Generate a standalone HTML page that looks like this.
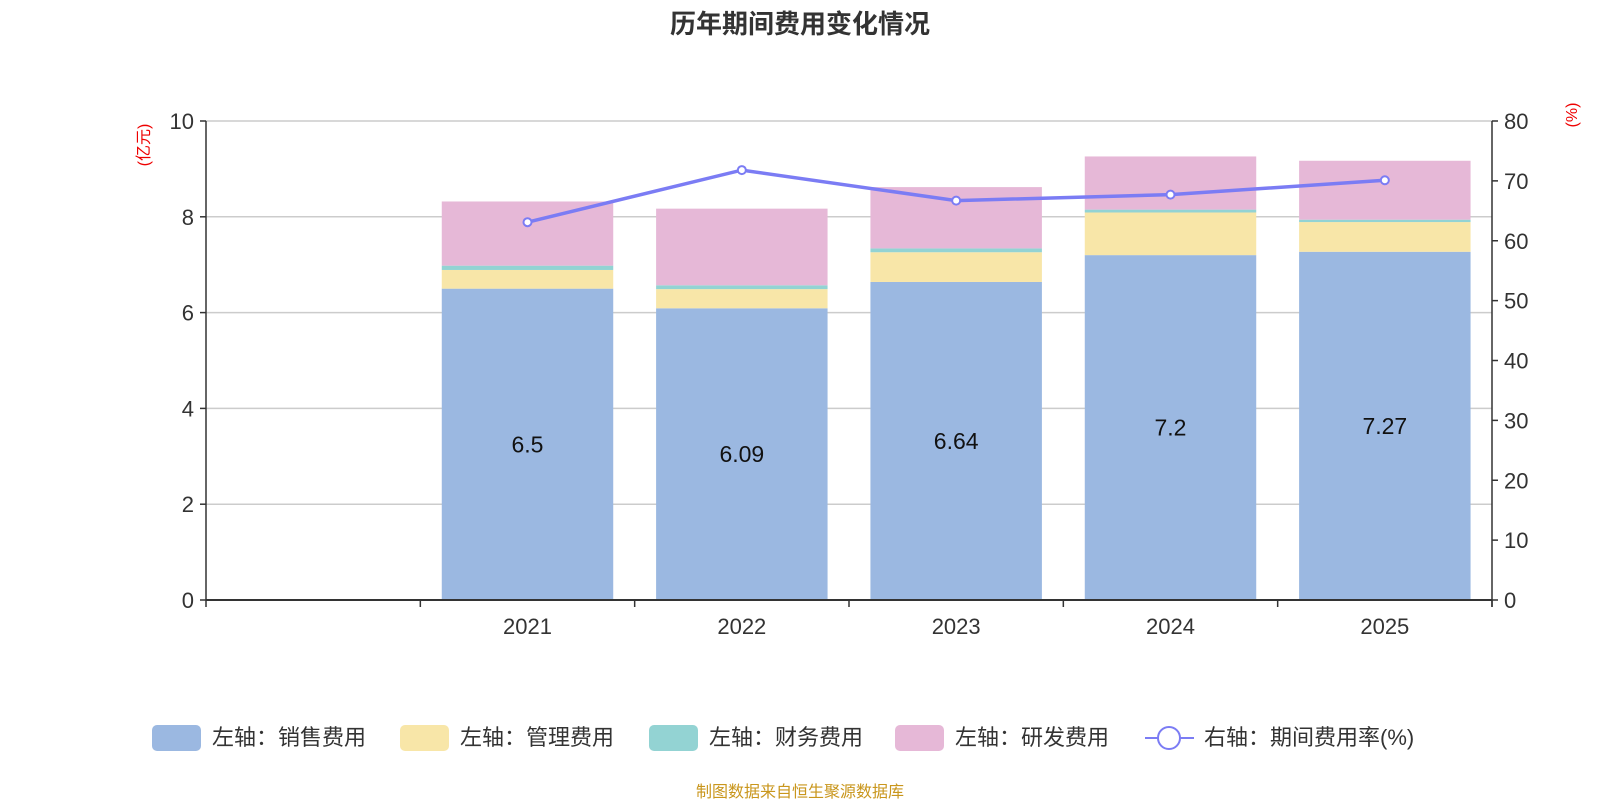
<!DOCTYPE html>
<html><head><meta charset="utf-8"><style>
body{margin:0;background:#fff;width:1600px;height:800px;overflow:hidden;font-family:"Liberation Sans","Noto Sans CJK SC",sans-serif}
</style></head><body>
<svg id="c" width="1600" height="800" xmlns="http://www.w3.org/2000/svg" font-family="Liberation Sans, Noto Sans CJK SC, sans-serif"></svg>
<script>
const categories=["","2021","2022","2023","2024","2025"];
const sales=[null,6.5,6.09,6.64,7.2,7.27];
const mgmt=[null,0.39,0.40,0.62,0.89,0.62];
const fin=[null,0.09,0.08,0.08,0.06,0.05];
const rd=[null,1.34,1.60,1.28,1.11,1.23];
const rate=[null,63.1,71.8,66.7,67.7,70.1];
const leftTicks=[0,2,4,6,8,10];
const rightTicks=[0,10,20,30,40,50,60,70,80];
const NS="http://www.w3.org/2000/svg";
const svg=document.getElementById('c');
const L=206,R=1492,T=121,B=600;
const slot=(R-L)/categories.length;
const x=i=>L+slot*(i+0.5);
const yl=v=>B-(B-T)*v/10;
const yr=v=>B-(B-T)*v/80;
function mk(t,a,txt){const e=document.createElementNS(NS,t);for(const k in a)e.setAttribute(k,a[k]);if(txt!=null)e.textContent=txt;svg.appendChild(e);return e;}
let e;
e=mk('text',{x:800,y:33,'text-anchor':'middle','font-size':26,'font-weight':'bold',fill:'#333'},'历年期间费用变化情况');


leftTicks.forEach(v=>{
 if(v>0){e=mk('line',{x1:L,x2:R,y1:yl(v),y2:yl(v),stroke:'#ccc','stroke-width':1.5});
 }
 e=mk('line',{x1:L-6,x2:L,y1:yl(v),y2:yl(v),stroke:'#333','stroke-width':1.5});
 
 e=mk('text',{x:L-12,y:yl(v)+8,'text-anchor':'end','font-size':22,fill:'#333'},String(v));
 
});
rightTicks.forEach(v=>{
 e=mk('line',{x1:R,x2:R+6,y1:yr(v),y2:yr(v),stroke:'#333','stroke-width':1.5});
 
 e=mk('text',{x:R+12,y:yr(v)+8,'font-size':22,fill:'#333'},String(v));
 
});
const cols=['#9bb8e1','#f8e6a8','#93d3d3','#e6b8d7'];
const series=[sales,mgmt,fin,rd];
const bw=slot*0.8;
categories.forEach((c,i)=>{
 if(sales[i]==null)return;
 let base=0;
 series.forEach((s,k)=>{
  e=mk('rect',{x:x(i)-bw/2,y:yl(base+s[i]),width:bw,height:yl(base)-yl(base+s[i]),fill:cols[k]});
  
  
  base+=s[i];
 });
 e=mk('text',{x:x(i),y:yl(sales[i]/2)+8,'text-anchor':'middle','font-size':23,fill:'#111'},String(sales[i]));
 
 e=mk('text',{x:x(i),y:B+34,'text-anchor':'middle','font-size':22,fill:'#333'},c);
 
});
for(let i=0;i<=categories.length;i++){
 e=mk('line',{x1:L+slot*i,x2:L+slot*i,y1:B,y2:B+7,stroke:'#333','stroke-width':1.5});
 
}
e=mk('line',{x1:L,x2:R,y1:B,y2:B,stroke:'#333','stroke-width':2});

e=mk('line',{x1:L,x2:L,y1:T,y2:B,stroke:'#333','stroke-width':1.5});

e=mk('line',{x1:R,x2:R,y1:T,y2:B+7,stroke:'#333','stroke-width':1.5});

let pts=[];rate.forEach((v,i)=>{if(v!=null)pts.push(x(i)+','+yr(v));});
e=mk('polyline',{points:pts.join(' '),fill:'none',stroke:'#7b7cf4','stroke-width':3.5});

rate.forEach((v,i)=>{if(v==null)return;
 e=mk('circle',{cx:x(i),cy:yr(v),r:4,fill:'#fff',stroke:'#7b7cf4','stroke-width':2});
 });
e=mk('text',{transform:'translate(149,145) rotate(-90)','text-anchor':'middle','font-size':16,fill:'#e00'},'(亿元)');

e=mk('text',{transform:'translate(1577,115) rotate(-90)','text-anchor':'middle','font-size':16,fill:'#e00'},'(%)');

const leg=[['左轴：销售费用',152],['左轴：管理费用',400],['左轴：财务费用',649],['左轴：研发费用',895]];
leg.forEach((l,k)=>{
 e=mk('rect',{x:l[1],y:725,width:49,height:26,rx:5,fill:cols[k]});
 
 e=mk('text',{x:l[1]+60,y:745,'font-size':22,fill:'#333'},l[0]);
 
});
e=mk('line',{x1:1145,x2:1194,y1:738,y2:738,stroke:'#7b7cf4','stroke-width':2});

e=mk('circle',{cx:1169,cy:738,r:11,fill:'#fff',stroke:'#7b7cf4','stroke-width':2});

e=mk('text',{x:1204,y:745,'font-size':22,fill:'#333'},'右轴：期间费用率(%)');

e=mk('text',{x:800,y:797,'text-anchor':'middle','font-size':16,fill:'#c9961c'},'制图数据来自恒生聚源数据库');

</script>
</body></html>
